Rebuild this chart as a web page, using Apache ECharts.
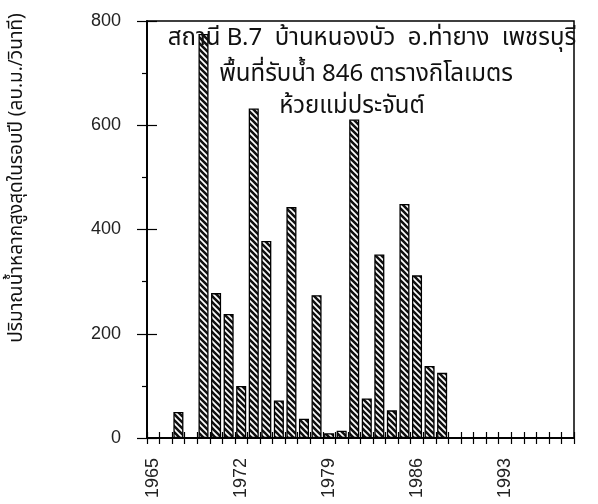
<!DOCTYPE html>
<html>
<head>
<meta charset="utf-8">
<script src="https://cdn.jsdelivr.net/npm/echarts@6/dist/echarts.min.js"></script>
<style>
html,body{margin:0;padding:0;background:#fff;}
#c{width:598px;height:504px;}
</style>
</head>
<body>
<div id="c"></div>
<script>
var years = [];
for (var y = 1965; y <= 1998; y++) years.push(String(y));
var peakFlow = [null, null, 50, null, 775, 278, 238, 100, 632, 378, 72, 443, 37, 274, 9, 14, 611, 76, 352, 53, 449, 312, 138, 125, null, null, null, null, null, null, null, null, null, null];
var titleLines = ['สถานี B.7  บ้านหนองบัว  อ.ท่ายาง  เพชรบุรี', 'พื้นที่รับน้ำ 846 ตารางกิโลเมตร', 'ห้วยแม่ประจันต์'];
var yAxisName = 'ปริมาณน้ำหลากสูงสุดในรอบปี (ลบ.ม./วินาที)';

var pc = document.createElement('canvas');
pc.width = 6; pc.height = 6;
var g = pc.getContext('2d');
g.fillStyle = '#fff'; g.fillRect(0, 0, 6, 6);
g.strokeStyle = '#111'; g.lineWidth = 2.6;
g.beginPath();
g.moveTo(-6, -6); g.lineTo(12, 12);
g.moveTo(-6, 0); g.lineTo(6, 12);
g.moveTo(0, -6); g.lineTo(12, 6);
g.stroke();

var thai = '"Noto Sans Thai", "Tahoma", "DejaVu Sans", sans-serif';
var blanks = years.map(function () { return 0; });
var gridBox = {left: 147, right: 24, top: 21, bottom: 66};
var chart = echarts.init(document.getElementById('c'));
chart.setOption({
  animation: false,
  backgroundColor: '#fff',
  grid: [
    Object.assign({show: true, borderColor: '#000', borderWidth: 1.5}, gridBox),
    Object.assign({show: false}, gridBox)
  ],
  graphic: [
    {type: 'text', x: 372, y: 40, z: 100, style: {text: titleLines[0], font: '24px ' + thai, fill: '#111', align: 'center', verticalAlign: 'middle'}},
    {type: 'text', x: 366, y: 76, z: 100, style: {text: titleLines[1], font: '24px ' + thai, fill: '#111', align: 'center', verticalAlign: 'middle'}},
    {type: 'text', x: 352, y: 108, z: 100, style: {text: titleLines[2], font: '24px ' + thai, fill: '#111', align: 'center', verticalAlign: 'middle'}},
    {type: 'text', x: 18, y: 178, rotation: Math.PI / 2, style: {text: yAxisName, font: '19px ' + thai, fill: '#111', align: 'center', verticalAlign: 'middle'}}
  ],
  xAxis: [
    {type: 'category', gridIndex: 0, data: years, boundaryGap: true, position: 'bottom',
     axisLine: {lineStyle: {color: '#000', width: 1.5}},
     axisTick: {show: true, length: 6, interval: 0, lineStyle: {color: '#000', width: 1.2}},
     axisLabel: {interval: 6, rotate: 90, margin: 20, fontSize: 18, color: '#222', fontFamily: 'Liberation Sans, Arial, sans-serif'},
     splitLine: {show: false}},
    {type: 'category', gridIndex: 1, data: years, boundaryGap: true, position: 'bottom', show: true, z: 10,
     axisLine: {show: true, lineStyle: {color: '#000', width: 1.5}},
     axisTick: {show: true, inside: true, length: 6, interval: 0, lineStyle: {color: '#000', width: 1.2}},
     axisLabel: {show: false}, splitLine: {show: false}}
  ],
  yAxis: [
    {type: 'value', gridIndex: 0, min: 0, max: 800, interval: 200, position: 'left',
     axisLine: {show: true, lineStyle: {color: '#000', width: 1.5}},
     axisTick: {show: true, length: 10, lineStyle: {color: '#000', width: 1.2}},
     minorTick: {show: true, splitNumber: 2, length: 5, lineStyle: {color: '#000', width: 1.2}},
     axisLabel: {margin: 26, fontSize: 18, color: '#222', fontFamily: 'Liberation Sans, Arial, sans-serif'},
     splitLine: {show: false}},
    {type: 'value', gridIndex: 1, min: 0, max: 800, interval: 200, position: 'left', show: true, z: 10,
     axisLine: {show: true, lineStyle: {color: '#000', width: 1.5}},
     axisTick: {show: true, inside: true, length: 10, lineStyle: {color: '#000', width: 1.2}},
     axisLabel: {show: false}, splitLine: {show: false}}
  ],
  series: [
    {type: 'bar', xAxisIndex: 0, yAxisIndex: 0, data: peakFlow, barWidth: '80%',
     itemStyle: {color: {image: pc, repeat: 'repeat'}, borderColor: '#000', borderWidth: 1.3}},
    {type: 'scatter', xAxisIndex: 1, yAxisIndex: 1, data: blanks, silent: true, symbolSize: 0, itemStyle: {opacity: 0}}
  ]
});
</script>
</body>
</html>
